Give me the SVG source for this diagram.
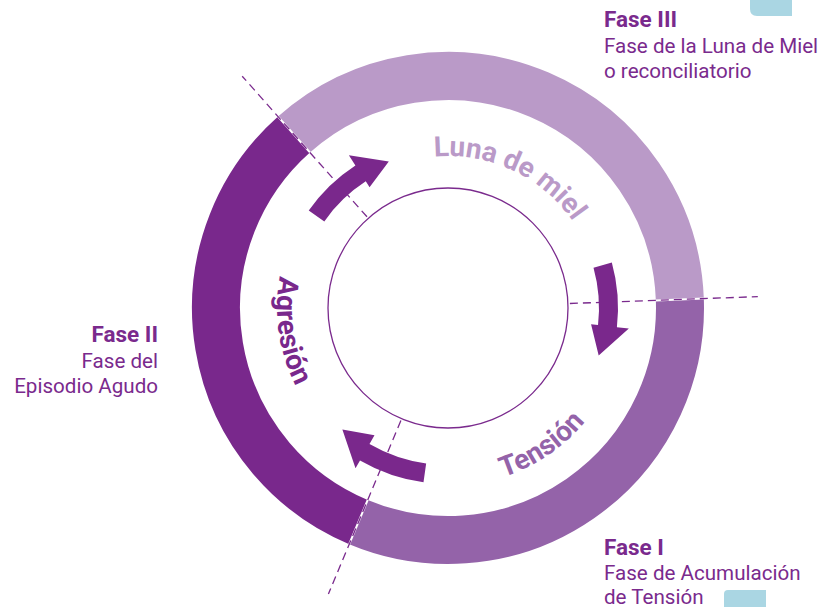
<svg xmlns="http://www.w3.org/2000/svg" width="823" height="607" viewBox="0 0 823 607">
<style>
.lbl{font-family:Roboto,"Liberation Sans",sans-serif;fill:#7A2A8D;font-size:20.6px}
.b{font-weight:700;font-size:22.5px}
.arc{font-family:Roboto,"Liberation Sans",sans-serif;font-weight:700;font-size:28px}
.arrow{fill:#7A288C}
.sep{stroke:#fff;stroke-width:2}
.dash{stroke:#7A2A8D;stroke-width:1.3;stroke-dasharray:8 5;fill:none}
</style>
<defs>
<path id="pLuna" d="M296,308 A152,152 0 0 1 600,308"/>
<path id="pTension" d="M270,308 A178,178 0 0 0 626,308"/>
<path id="pAgresion" d="M448,137 A171,171 0 0 0 448,479"/>
<path id="arw" d="M170,0 A170,170 0 0 1 157.62,63.68 L168.75,68.18 L132.51,86.05 L133.51,53.94 L140,56.57 A151,151 0 0 0 151,0 Z"/>
</defs>
<rect width="823" height="607" fill="#fff"/>
<path d="M750,0 H792 V16 H757 Q750,16 750,9 Z" fill="#AAD6E3"/>
<path d="M724,594 Q724,590 728,590 H766 V607 H724 Z" fill="#AAD6E3"/>

<g id="ring">
<path id="seg-tension" d="M679.84,299.5 A232,232 0 0 1 358.47,522.03" fill="none" stroke="#9463A9" stroke-width="48"/>
<path id="seg-agresion" d="M358.47,522.03 A232,232 0 0 1 293.97,134.51" fill="none" stroke="#79288C" stroke-width="48"/>
<path id="seg-luna" d="M293.97,134.51 A232,232 0 0 1 679.84,299.5" fill="none" stroke="#BA9AC8" stroke-width="48"/>
</g>
<circle id="inner" cx="448" cy="308" r="120" fill="none" stroke="#7A2A8D" stroke-width="1.3"/>

<g id="connectors">
<line class="sep" x1="655.86" y1="300.38" x2="703.83" y2="298.62"/>
<line class="sep" x1="367.73" y1="499.89" x2="349.21" y2="544.17"/>
<line class="sep" x1="309.90" y1="152.46" x2="278.03" y2="116.56"/>
<line class="dash" x1="569.9" y1="303.5" x2="757.8" y2="296.6"/>
<line class="dash" x1="400.9" y1="420.6" x2="328.4" y2="594.0"/>
<line class="dash" x1="367.0" y1="216.8" x2="242.2" y2="76.2"/>
</g>

<g id="arrow1"><use href="#arw" class="arrow" transform="translate(448,308) rotate(215)"/></g>
<g id="arrow2"><use href="#arw" class="arrow" transform="translate(448,308) rotate(344.5)"/></g>
<g id="arrow3"><path class="arrow" transform="translate(448,308) rotate(98)" d="M176,0 A176,176 0 0 1 163.18,65.93 L171.53,69.30 L135.03,87.69 L136.30,55.07 L145.57,58.81 A157,157 0 0 0 157,0 Z"/></g>

<g id="text-luna"><text class="arc" fill="#BA9AC8" font-size="26.5"><textPath href="#pLuna" startOffset="305" text-anchor="middle">Luna de miel</textPath></text></g>
<g id="text-tension"><text class="arc" fill="#9463A9"><textPath href="#pTension" startOffset="386" text-anchor="middle">Tensión</textPath></text></g>
<g id="text-agresion"><text class="arc" fill="#79288C"><textPath href="#pAgresion" startOffset="293" text-anchor="middle">Agresión</textPath></text></g>

<g id="fase3">
<text class="lbl b" x="604" y="27">Fase III</text>
<text class="lbl" x="604" y="53">Fase de la Luna de Miel</text>
<text class="lbl" x="604" y="78">o reconciliatorio</text>
</g>
<g id="fase2">
<text class="lbl b" x="158" y="342" text-anchor="end">Fase II</text>
<text class="lbl" x="158" y="368" text-anchor="end">Fase del</text>
<text class="lbl" x="158" y="393" text-anchor="end">Episodio Agudo</text>
</g>
<g id="fase1">
<text class="lbl b" x="604" y="555">Fase I</text>
<text class="lbl" x="604" y="580">Fase de Acumulación</text>
<text class="lbl" x="604" y="604">de Tensión</text>
</g>
</svg>
